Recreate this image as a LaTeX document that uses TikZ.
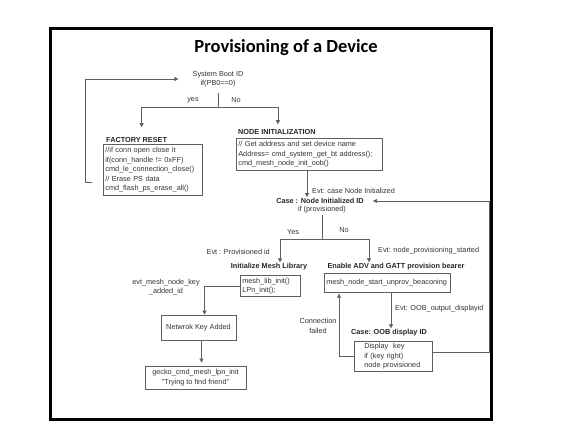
\documentclass[tikz,border=0pt]{standalone}
\usepackage{fontspec}
\setmainfont{Liberation Sans}
\newfontfamily\titlefont{Carlito}
\usetikzlibrary{arrows.meta}
\definecolor{linegray}{RGB}{95,95,95}
\definecolor{textgray}{RGB}{50,50,50}
\newcommand\diagfont{\fontsize{7.3}{9.4}\selectfont}
\tikzset{
    box/.style = {
        draw=linegray,
        line width=0.7pt,
        inner sep=2pt,
        align=left,
        anchor=north west,
        font=\diagfont,
        text=textgray
    },
    head/.style = {
        font=\diagfont\bfseries,
        inner sep=1pt,
        text=black!85
    },
    note/.style = {
        font=\diagfont,
        inner sep=1pt,
        text=textgray
    },
    wire/.style = {
        linegray,
        line width=0.7pt
    },
    flow/.style = {
        wire,
        -{Triangle[length=4pt,width=4pt]}
    }
}

\begin{document}
\begin{tikzpicture}[x=1pt,y=-1pt]
    \useasboundingbox (0,0) rectangle (561,443);
    % Frame and title
    \draw[line width=3pt] (50,29) rectangle (491,419);
    \node[font=\titlefont\bfseries\fontsize{18.5}{20}\selectfont] (title) at (286,48) {Provisioning of a Device};

    %System boot
    \node[note, align=center] (boot) at (218,79) {System Boot ID\\if(PB0==0)};
    \coordinate (bootsplit) at (218,107);
    \draw[wire, shorten <=5pt] (boot.south) -- (bootsplit);
    \node[note] (yes) at (193,100) {yes};
    \node[note] (no) at (236,100) {No};

    %Factory reset
    \node[head, anchor=west] (frhead) at (105,140) {FACTORY RESET};
    \node[box, text width=95pt, minimum height=51pt] (frbox) at (103,144)
        {//if conn open close it\\if(conn\_handle != 0xFF)\\cmd\_le\_connection\_close()\\// Erase PS data\\cmd\_flash\_ps\_erase\_all()};
    \draw[flow, shorten >=9pt] (bootsplit) -| ([xshift=5pt]frhead.north);
    \coordinate (frstub) at (92,182);
    \draw[flow, shorten >=13pt] (frstub) -- ++(-7,0) |- (boot.west);

    %Node initialization
    \node[head, anchor=west] (nihead) at (237,132) {NODE INITIALIZATION};
    \node[box, text width=142pt, minimum height=32pt] (nibox) at (236,138)
        {// Get address and set device name\\Address= cmd\_system\_get\_bt address();\\cmd\_mesh\_node\_init\_oob()};
    \draw[flow, shorten >=4pt] (bootsplit) -| ([xshift=1pt]nihead.north);

    %Case node initialized
    \node[head] (casehead) at (320,201) {Case : Node Initialized ID};
    \node[note] (caseif) at (322,210) {if (provisioned)};
    \draw[flow] ([xshift=71pt]nibox.south west) -- ([xshift=71pt]nibox.south west |- casehead.north);
    \node[note, anchor=west] (evtinit) at (311,191) {Evt: case Node Initialized};
    \coordinate (casesplit) at (322,239);
    \draw[wire] (caseif.south) -- (casesplit);
    \node[note] (yes2) at (293,232) {Yes};
    \node[note] (no2) at (344,230) {No};

    %Initialize mesh library
    \node[head] (imlhead) at (269,267) {Initialize Mesh Library};
    \node[box, text width=56pt, minimum height=21pt] (imlbox) at (240,275)
        {mesh\_lib\_init()\\LPn\_init();};
    \draw[flow] (casesplit) -| ([xshift=11pt]imlhead.north);
    \node[note, anchor=east] (evtprov) at (271,252) {Evt : Provisioned id};

    %Enable ADV and GATT
    \node[head] (eaghead) at (396,267) {Enable ADV and GATT provision bearer};
    \node[box, text width=122pt, minimum height=19pt] (eagbox) at (324,273)
        {mesh\_node\_start\_unprov\_beaconing};
    \draw[flow] (casesplit) -| ([xshift=-27pt]eaghead.north);
    \node[note, anchor=west] (evtstart) at (377,251) {Evt: node\_provisioning\_started};

    %Network key
    \node[note, align=center] (evtkey) at (166,287) {evt\_mesh\_node\_key\\\_added\_id};
    \node[box, anchor=center, align=center, minimum width=75pt, minimum height=25pt] (nkabox) at (198.5,327.5)
        {Netwrok Key Added};
    \draw[flow] (imlbox.west) -| ([xshift=6pt]nkabox.north);

    %LPN init
    \node[box, anchor=center, align=center, minimum width=101pt, minimum height=23pt] (geckobox) at (195.5,377.5)
        {gecko\_cmd\_mesh\_lpn\_init\\"Trying to find friend"};
    \draw[flow, shorten >=3pt] ([xshift=3pt]nkabox.south) -- ([xshift=3pt]nkabox.south |- geckobox.north);

    %OOB display
    \node[head] (oobhead) at (389,333) {Case: OOB display ID};
    \node[box, text width=58pt, inner xsep=10pt, minimum height=30pt] (oobbox) at (354,341)
        {Display \ key\\if (key right)\\node provisioned};
    \draw[flow] ([xshift=67pt]eagbox.south west) -- ([xshift=67pt]eagbox.south west |- oobhead.north);
    \node[note, anchor=west] (evtoob) at (394,309) {Evt: OOB\_output\_displayid};
    \node[note, align=center] (connfail) at (318,326) {Connection\\failed};
    \draw[flow, shorten >=1pt] (oobbox.west) -| ([xshift=15pt]eagbox.south west);
    \draw[flow, shorten >=8pt] ([yshift=4pt]oobbox.east) -- ++(57,0) |- (casehead.east);
\end{tikzpicture}
\end{document}
